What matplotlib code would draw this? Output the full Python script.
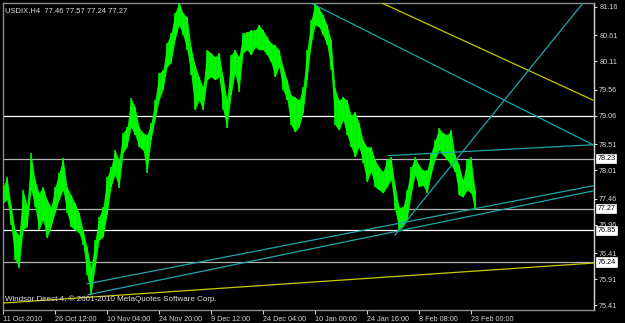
import matplotlib
matplotlib.use("Agg")
import matplotlib.pyplot as plt
import matplotlib.transforms as mtransforms
import numpy as np

# USDIX H4, high / low per chart column (oldest first)
highs = [77.69, 77.88, 77.34, 76.86, 76.76, 77.63, 77.34, 78.34, 77.82, 77.57,
         77.69, 77.44, 77.30, 77.69, 77.96, 78.25, 77.69, 77.53, 77.38, 77.19,
         76.86, 76.53, 76.13, 76.66, 77.11, 77.30, 77.88, 78.07, 78.40, 78.21,
         78.73, 78.84, 79.40, 79.23, 78.84, 78.73, 78.69, 78.92, 79.36, 79.88,
         79.94, 80.46, 80.65, 81.04, 81.25, 81.04, 80.96, 80.38, 80.04, 79.81,
         79.61, 80.33, 80.27, 80.19, 80.27, 79.81, 79.36, 80.23, 80.33, 80.19,
         80.65, 80.67, 80.71, 80.71, 80.81, 80.71, 80.58, 80.46, 80.42, 80.33,
         80.00, 79.75, 79.46, 79.42, 79.36, 79.61, 80.33, 80.90, 81.23, 81.13,
         81.00, 80.81, 80.52, 79.59, 79.36, 79.42, 79.36, 79.07, 79.13, 78.92,
         78.59, 78.46, 78.46, 78.21, 78.07, 77.98, 78.21, 78.26, 77.72, 77.30,
         77.30, 77.63, 78.07, 78.26, 78.11, 78.01, 78.01, 78.34, 78.59, 78.82,
         78.73, 78.69, 78.78, 78.30, 78.11, 77.82, 78.21, 78.26, 77.63]
lows = [77.38, 77.44, 76.95, 76.28, 76.13, 76.86, 76.92, 77.63, 77.30, 76.86,
        77.05, 76.70, 76.92, 77.19, 77.44, 77.63, 77.19, 76.92, 76.86, 76.80,
        76.57, 75.99, 75.61, 76.14, 76.66, 76.72, 77.15, 77.69, 77.92, 77.67,
        78.34, 78.46, 78.84, 78.69, 78.46, 78.40, 77.96, 78.59, 78.98, 79.36,
        79.56, 80.00, 80.08, 80.52, 80.81, 80.61, 80.33, 79.84, 79.17, 79.36,
        79.17, 79.75, 79.81, 79.75, 79.81, 79.17, 78.82, 79.46, 79.88, 79.52,
        80.27, 80.33, 80.23, 80.38, 80.33, 80.33, 80.23, 80.09, 79.81, 80.00,
        79.56, 79.36, 78.88, 78.75, 78.84, 79.11, 79.75, 80.42, 80.81, 80.77,
        80.61, 80.42, 79.94, 78.88, 78.78, 78.98, 78.69, 78.46, 78.26, 78.46,
        78.15, 77.78, 77.98, 77.69, 77.63, 77.57, 77.69, 77.82, 77.24, 76.86,
        76.92, 77.05, 77.53, 77.92, 77.69, 77.72, 77.57, 77.92, 78.21, 78.40,
        78.30, 78.21, 78.11, 77.98, 77.53, 77.49, 77.63, 77.57, 77.24]

date_labels = ["11 Oct 2010", "26 Oct 12:00", "10 Nov 04:00", "24 Nov 20:00",
               "9 Dec 12:00", "24 Dec 04:00", "10 Jan 00:00", "24 Jan 16:00",
               "8 Feb 08:00", "23 Feb 00:00"]
date_pos = [0, 13, 26, 39, 52, 65, 78, 91, 104, 117]
price_ticks = [81.16, 80.61, 80.11, 79.56, 79.06, 78.51, 78.01, 77.46,
               76.96, 76.41, 75.91, 75.41]

# horizontal levels
levels = [79.05, 78.23, 77.27, 76.85, 76.24]
level_colors = ["#ffffff", "#b4b4b4", "#b4b4b4", "#ffffff", "#b4b4b4"]
boxed_levels = [78.23, 77.27, 76.85, 76.24]

# trend lines: bar1, price1, bar2, price2
tl_bar1 = [94.75, 77.0, 98.0, 96.25, 21.0, 21.25, 0.0]
tl_price1 = [81.23, 81.23, 76.76, 78.29, 75.82, 75.61, 75.45]
tl_bar2 = [147.5, 147.5, 145.0, 147.5, 147.5, 147.5, 147.5]
tl_price2 = [79.36, 78.50, 81.23, 78.50, 77.71, 77.61, 76.22]
tl_color = ["#c8c800", "#1fa8a8", "#1fa8a8", "#1fa8a8", "#1fa8a8", "#1fa8a8", "#c8c800"]

plt.rcParams["font.family"] = ["Liberation Sans", "DejaVu Sans"]

fig = plt.figure(figsize=(6.25, 3.23), dpi=100, facecolor="black")
ax = fig.add_axes([2.5 / 625, 13 / 323, 591.5 / 625, 307.5 / 323])
ax.set_facecolor("black")

idx = np.arange(len(highs))
ax.fill_between(idx, lows, highs, color="#00ee00", linewidth=0, zorder=3)
ax.vlines(idx, lows, highs, color="#00ff00", linewidth=1.1, zorder=3)

for lvl, c in zip(levels, level_colors):
    ax.axhline(lvl, color=c, linewidth=0.9, zorder=2)

for x1, p1, x2, p2, c in zip(tl_bar1, tl_price1, tl_bar2, tl_price2, tl_color):
    ax.plot([x1, x2], [p1, p2], color=c, linewidth=0.9, zorder=4)

ax.set_xlim(-0.125, 147.75)
ax.set_ylim(75.316, 81.241)

ax.set_xticks(date_pos)
ax.set_xticklabels(date_labels)
for lab in ax.get_xticklabels():
    lab.set_ha("left")
ax.set_yticks(price_ticks)
ax.set_yticklabels([f"{p:.2f}" for p in price_ticks])
ax.yaxis.tick_right()
ax.tick_params(axis="x", colors="#d8d8d8", length=3, width=0.8, labelsize=5.2, pad=1.5)
ax.tick_params(axis="y", colors="#d8d8d8", length=2.5, width=0.8, labelsize=5.2, pad=1.2)

for s in ["left", "top", "bottom"]:
    ax.spines[s].set_color("#8c8c8c")
    ax.spines[s].set_linewidth(1.0)
ax.spines["right"].set_color("#d8d8d8")
ax.spines["right"].set_linewidth(1.0)

trans = mtransforms.blended_transform_factory(ax.transAxes, ax.transData)
for lvl in boxed_levels:
    ax.text(1.0055, lvl, f"{lvl:.2f}", transform=trans, fontsize=5.2, color="black",
            va="center", ha="left", zorder=10, clip_on=False,
            bbox=dict(boxstyle="square,pad=0.15", fc="white", ec="white", lw=0.5))

ax.text(0.005, 0.985, "USDIX,H4  77.46 77.57 77.24 77.27", transform=ax.transAxes,
        fontsize=5.5, color="#e0e0e0", va="top", ha="left", zorder=10)
ax.text(0.005, 0.022, "Windsor Direct 4, \u00a9 2001-2010 MetaQuotes Software Corp.",
        transform=ax.transAxes, fontsize=5.8, color="#e0e0e0", va="bottom", ha="left",
        zorder=10)

fig.savefig("out.png", dpi=100, facecolor="black")
